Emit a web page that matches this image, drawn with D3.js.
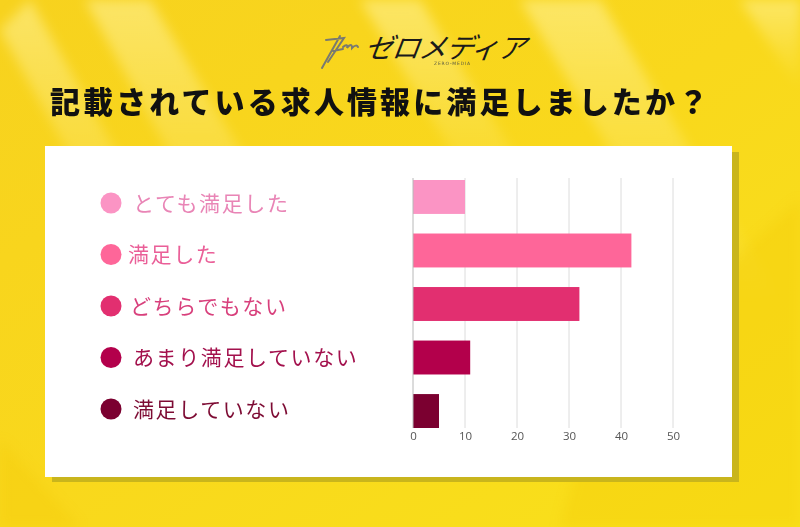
<!DOCTYPE html>
<html><head><meta charset="utf-8">
<script src="https://cdn.jsdelivr.net/npm/d3@7"></script>
<style>
html,body{margin:0;padding:0;background:#f8d81a;}
svg{display:block;}
</style></head>
<body>
<svg id="chart" width="800" height="527"></svg>
<script>
// ---- data ----
const categories = ["とても満足した", "満足した", "どちらでもない", "あまり満足していない", "満足していない"];
const values = [10, 42, 32, 11, 5];
const barColors = ["#fb94c4", "#fe6699", "#e22f70", "#b3004b", "#7b0030"];
const labelColors = ["#e985b6", "#ea5f98", "#d8407c", "#a3114d", "#7d0b33"];
const tickValues = [0, 10, 20, 30, 40, 50];
const title = "記載されている求人情報に満足しましたか？";

const svg = d3.select("#chart");
const W = 800, H = 527;
const defs = svg.append("defs");

// background
const bg = defs.append("linearGradient").attr("id","bg").attr("x1","0").attr("y1","0").attr("x2","1").attr("y2","1");
bg.append("stop").attr("offset","0").attr("stop-color","#f7d21e");
bg.append("stop").attr("offset","0.5").attr("stop-color","#f9d81c");
bg.append("stop").attr("offset","1").attr("stop-color","#f9e11a");
svg.append("rect").attr("width",W).attr("height",H).attr("fill","url(#bg)");

const blur = defs.append("filter").attr("id","soft").attr("x","-20%").attr("y","-20%").attr("width","140%").attr("height","140%");
blur.append("feGaussianBlur").attr("stdDeviation",6);

const streak = defs.append("linearGradient").attr("id","streak").attr("x1","0").attr("y1","0").attr("x2","0").attr("y2","1");
streak.append("stop").attr("offset","0").attr("stop-color","#fff3a0").attr("stop-opacity",0.55);
streak.append("stop").attr("offset","0.6").attr("stop-color","#fff3a0").attr("stop-opacity",0.18);
streak.append("stop").attr("offset","1").attr("stop-color","#fff3a0").attr("stop-opacity",0);
const streaks = [
  [[85,0],[150,0],[330,300],[250,300]],
  [[0,30],[30,0],[200,300],[150,300]],
  [[520,0],[600,0],[780,300],[700,300]],
  [[740,0],[800,0],[800,90]],
  [[360,0],[420,0],[560,230],[500,230]]
];
svg.append("g").attr("filter","url(#soft)").selectAll("polygon").data(streaks).join("polygon")
  .attr("points", d => d.map(p => p.join(",")).join(" "))
  .attr("fill","url(#streak)");
const dark = [
  [[600,380],[800,200],[800,527],[560,527]],
  [[0,440],[80,527],[0,527]]
];
svg.append("g").attr("filter","url(#soft)").selectAll("polygon").data(dark).join("polygon")
  .attr("points", d => d.map(p => p.join(",")).join(" "))
  .attr("fill","#f5c400").attr("opacity",0.25);

// logo
const logo = svg.append("g");
logo.append("path")
  .attr("d","M326,40 L344,38 L328,62 M333,51 L343,49 M322,68 L340,36 M343,47 C346,44 348,45 347,48 C350,44 352,44 352,48 C355,45 357,45 358,47")
  .attr("fill","none").attr("stroke","#7a7a70").attr("stroke-width",2).attr("stroke-linecap","round");
logo.append("text").attr("x",364).attr("y",58)
  .attr("font-family","Noto Sans CJK JP").attr("font-size",28).attr("font-style","italic")
  .attr("font-weight",400).attr("fill","#1a1a1a").attr("letter-spacing",-1)
  .attr("transform","skewX(-8) translate(8,0)")
  .text("ゼロメディア");
logo.append("text").attr("x",434).attr("y",65)
  .attr("font-family","DejaVu Sans").attr("font-size",4.5).attr("fill","#5a5a40").attr("letter-spacing",0.8)
  .text("ZERO-MEDIA");

// title
svg.append("text").attr("x",50).attr("y",113)
  .attr("font-family","Noto Sans CJK JP").attr("font-weight",900).attr("font-size",30)
  .attr("letter-spacing",3.1).attr("fill","#111")
  .text(title);

// panel with shadow
svg.append("rect").attr("x",52).attr("y",152).attr("width",687).attr("height",330).attr("fill","#c9b51c");
svg.append("rect").attr("x",45).attr("y",146).attr("width",687).attr("height",331).attr("fill","#ffffff");

// chart
const x = d3.scaleLinear().domain([0,50]).range([413,673]);
const y = d3.scaleBand().domain(categories).range([180,428]).paddingInner(0.366).paddingOuter(0);

const g = svg.append("g");
g.selectAll("line.grid").data(tickValues.slice(1)).join("line").attr("class","grid")
  .attr("x1",d=>x(d)).attr("x2",d=>x(d)).attr("y1",178).attr("y2",428)
  .attr("stroke","#dcdcdc").attr("stroke-width",1);

g.selectAll("rect.bar").data(values).join("rect").attr("class","bar")
  .attr("x",x(0)).attr("y",(d,i)=>y(categories[i]))
  .attr("width",d=>x(d)-x(0)).attr("height",y.bandwidth())
  .attr("fill",(d,i)=>barColors[i]);

g.append("line").attr("x1",x(0)).attr("x2",x(0)).attr("y1",178).attr("y2",428)
  .attr("stroke","#b8b8b8").attr("stroke-width",1);

const axis = d3.axisBottom(x).tickValues(tickValues).tickSize(0).tickPadding(0);
const ax = g.append("g").attr("transform","translate(0,432)").call(axis);
ax.select(".domain").remove();
ax.selectAll("text").attr("font-family","Open Sans").attr("font-size",11.5).attr("fill","#555").attr("dy","0.71em");

// legend-style labels
const ly = d3.scalePoint().domain(categories).range([203,409]);
const leg = svg.append("g");
leg.selectAll("circle").data(categories).join("circle")
  .attr("cx",111).attr("cy",d=>ly(d)).attr("r",10.5)
  .attr("fill",(d,i)=>barColors[i]);
leg.selectAll("text").data(categories).join("text")
  .attr("x",(d,i)=> i===1 ? 128 : (i===2 ? 130 : 133))
  .attr("y",d=>ly(d)).attr("dy","0.36em")
  .attr("font-family","Noto Sans CJK JP").attr("font-weight",400).attr("font-size",21).attr("letter-spacing",1.6)
  .attr("fill",(d,i)=>labelColors[i])
  .text(d=>d);
</script>
</body></html>
